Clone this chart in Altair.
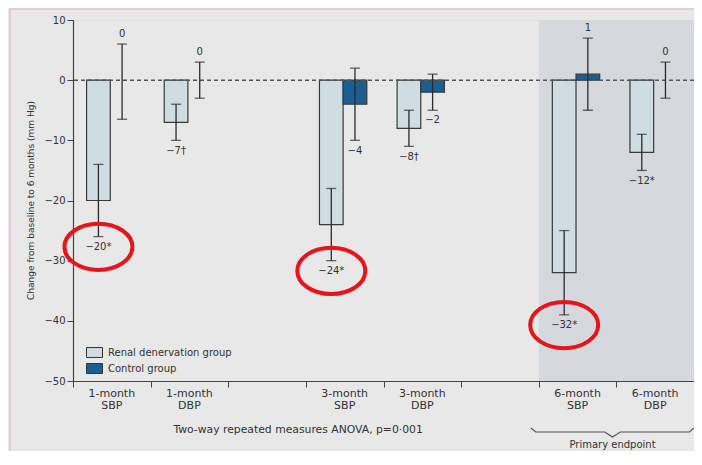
import altair as alt
import pandas as pd

# ---------------- data ----------------
categories = ["1-month SBP", "1-month DBP", "3-month SBP", "3-month DBP", "6-month SBP", "6-month DBP"]
slots = [0, 1, 3, 4, 6, 7]          # position of each category on the axis (gaps between months)
groups = ["Renal denervation group", "Control group"]

renal_mean = [-20, -7, -24, -8, -32, -12]
renal_lo = [-26, -10, -30, -11, -39, -15]
renal_hi = [-14, -4, -18, -5, -25, -9]
renal_labels = ["\u221220*", "\u22127\u2020", "\u221224*", "\u22128\u2020", "\u221232*", "\u221212*"]

control_mean = [0, 0, -4, -2, 1, 0]
control_lo = [-6.5, -3, -10, -5, -5, -3]
control_hi = [6, 3, 2, 1, 7, 3]
control_labels = ["0", "0", "\u22124", "\u22122", "1", "0"]

circled = ["1-month SBP", "3-month SBP", "6-month SBP"]
y_ticks = [-50, -40, -30, -20, -10, 0, 10]
n_slots = 8
primary_slots = [6, 8]
anova_text = "Two-way repeated measures ANOVA, p=0\u00b7001"
primary_text = "Primary endpoint"
y_title = "Change from baseline to 6 months (mm Hg)"

# ---------------- build tables ----------------
BW = 0.305
rows = []
for i, cat in enumerate(categories):
    c = slots[i] + 0.48
    rows.append(dict(cat=cat, group=groups[0], x=c - BW, x2=c, xe=c - BW / 2,
                     mean=renal_mean[i], lo=renal_lo[i], hi=renal_hi[i],
                     label=renal_labels[i], circ=cat in circled))
    rows.append(dict(cat=cat, group=groups[1], x=c, x2=c + BW, xe=c + BW / 2,
                     mean=control_mean[i], lo=control_lo[i], hi=control_hi[i],
                     label=control_labels[i], circ=False))
df = pd.DataFrame(rows)
df["ly"] = [lo - 1.7 if m < 0 else hi + 1.7 for m, lo, hi in zip(df["mean"], df["lo"], df["hi"])]

cat_df = pd.DataFrame({
    "line1": [c.split(" ")[0] for c in categories],
    "line2": [c.split(" ")[1] for c in categories],
    "xc": [s + 0.5 for s in slots],
})

xs = alt.Scale(domain=[0, n_slots], nice=False, zero=False)
ys = alt.Scale(domain=[-50, 10], nice=False, zero=False)

FONT = "DejaVu Sans"
TXT = "#333333"
DARK = "#2b2b2b"

x_axis = alt.Axis(values=list(range(n_slots + 1)), labels=False, title=None, grid=False,
                  tickSize=6, tickColor="#444", tickWidth=1,
                  domainColor="#444", domainWidth=1.2)
y_axis = alt.Axis(values=y_ticks, title=y_title, grid=False, tickSize=6, tickColor="#444",
                  domainColor="#444", domainWidth=1.2, labelFont=FONT, labelFontSize=10,
                  labelColor=TXT, labelPadding=2, titleFont=FONT, titleFontSize=9,
                  titleFontWeight="normal", titleColor=TXT, titleX=-43, titleY=180,
                  titleAngle=-90, titleAlign="center", titleBaseline="middle")


def X(f):
    return alt.X(f, scale=xs, axis=x_axis)


def Y(f):
    return alt.Y(f, scale=ys, axis=y_axis)


base = alt.Chart(df)

shade = alt.Chart(pd.DataFrame({"a": [primary_slots[0]], "b": [primary_slots[1]],
                                "t": [10], "u": [-50]})).mark_rect(color="#d5d8dc").encode(
    x=X("a:Q"), x2="b:Q", y=Y("t:Q"), y2="u:Q")

bars = base.transform_filter("datum.mean != 0").mark_bar(stroke="#3a3a3a", strokeWidth=1.2).encode(
    x=X("x:Q"),
    x2="x2:Q",
    y=Y("mean:Q"),
    y2=alt.Y2(datum=0),
    fill=alt.Fill("group:N", scale=alt.Scale(domain=groups, range=["#cfdde2", "#1b5e92"]),
                  legend=alt.Legend(title=None, orient="none", legendX=13, legendY=324,
                                    symbolType="M-1,-0.62H1V0.62H-1Z", symbolSize=256,
                                    symbolStrokeColor="#333", symbolStrokeWidth=1,
                                    labelFont=FONT, labelFontSize=10, labelColor=TXT,
                                    labelOffset=5, rowPadding=0, padding=0)),
)

zero = alt.Chart(pd.DataFrame({"z": [0]})).mark_rule(
    color="#555", strokeDash=[4, 3], strokeWidth=1.5).encode(y=Y("z:Q"))

err = base.mark_rule(color=DARK, strokeWidth=1.3).encode(
    x=X("xe:Q"), y=Y("lo:Q"), y2="hi:Q")

caps = base.transform_fold(["lo", "hi"], as_=["k", "v"]).mark_tick(
    orient="horizontal", size=10, thickness=1.3, color=DARK).encode(
    x=X("xe:Q"), y=Y("v:Q"))

labels = base.mark_text(font=FONT, fontSize=10, color=TXT, baseline="middle").encode(
    x=X("xe:Q"), y=Y("ly:Q"), text="label:N")

ellipse_path = ("M-1,0 C-1,-0.376 -0.552,-0.68 0,-0.68 C0.552,-0.68 1,-0.376 1,0 "
                "C1,0.376 0.552,0.68 0,0.68 C-0.552,0.68 -1,0.376 -1,0 Z")
rings = base.transform_filter("datum.circ").mark_point(
    shape=ellipse_path, size=4624, filled=False, stroke="#e8141c", strokeWidth=4, opacity=1).encode(
    x=X("xe:Q"), y=Y("ly:Q"))

cat_base = alt.Chart(cat_df).transform_calculate(y1="-51.16", y2="-53.16")
cat1 = cat_base.mark_text(font=FONT, fontSize=11, color=TXT, baseline="top").encode(
    x=X("xc:Q"), y=Y("y1:Q"), text="line1:N")
cat2 = cat_base.mark_text(font=FONT, fontSize=11, color=TXT, baseline="top").encode(
    x=X("xc:Q"), y=Y("y2:Q"), text="line2:N")

anova = alt.Chart(pd.DataFrame({"t": [anova_text], "x": [2.9], "y": [-58.14]})).mark_text(
    font=FONT, fontSize=10.8, color=TXT).encode(x=X("x:Q"), y=Y("y:Q"), text="t:N")

brace_df = pd.DataFrame({
    "o": [0, 1, 2, 3, 4, 5, 6],
    "x": [5.9, 5.96, 6.85, 6.95, 7.05, 7.94, 8.0],
    "y": [-57.8, -58.48, -58.48, -59.3, -58.48, -58.48, -57.8],
})
brace = alt.Chart(brace_df).mark_line(color="#555", strokeWidth=1.2).encode(
    x=X("x:Q"), y=Y("y:Q"), order="o:Q")

primary = alt.Chart(pd.DataFrame({"t": [primary_text], "x": [6.95], "y": [-60.64]})).mark_text(
    font=FONT, fontSize=10, color=TXT).encode(x=X("x:Q"), y=Y("y:Q"), text="t:N")

frame = alt.Chart(pd.DataFrame({"f": [0]})).mark_rect(
    fillOpacity=0, stroke="#e6c4cc", strokeWidth=1.5).encode(
    x=alt.value(-63), x2=alt.value(700), y=alt.value(-11), y2=alt.value(470))

chart = alt.layer(
    shade, bars, zero, err, caps, labels, rings, cat1, cat2, anova, brace, primary, frame
).properties(
    width=621, height=361,
    autosize=alt.AutoSizeParams(type="none"),
    padding={"left": 65, "top": 12, "right": 0, "bottom": 70},
    background="#e8e8e8",
).configure_view(fill="#e8e8e8", strokeWidth=0).configure(font=FONT)

chart.save("out.html", embed_options={"renderer": "svg", "actions": False})
